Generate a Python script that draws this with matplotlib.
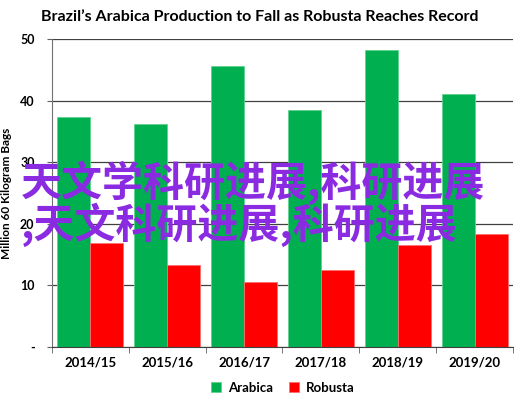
import numpy as np
import matplotlib
matplotlib.use('Agg')
import matplotlib.pyplot as plt

# Brazil coffee production, million 60 kg bags
seasons = ['2014/15', '2015/16', '2016/17', '2017/18', '2018/19', '2019/20']
arabica = [37.4, 36.2, 45.7, 38.5, 48.3, 41.1]
robusta = [16.9, 13.3, 10.5, 12.4, 16.6, 18.3]
y_ticks = [0, 10, 20, 30, 40, 50]
y_tick_labels = ['-', '10', '20', '30', '40', '50']
overlay_lines = ['天文学科研进展,科研进展', ',天文科研进展,科研进展']

plt.rcParams['font.family'] = ['Lato', 'DejaVu Sans']

fig = plt.figure(figsize=(5.3, 3.97), dpi=100)
ax = fig.add_axes([0.098, 0.1267, 0.870, 0.7743])

x = np.arange(len(seasons))
w = 0.43
ax.bar(x - w/2, arabica, w, color='#00B050', edgecolor='#5fd38f', linewidth=0.6, label='Arabica', zorder=3)
ax.bar(x + w/2, robusta, w, color='#FF0000', edgecolor='#ff7070', linewidth=0.6, label='Robusta', zorder=3)

ax.set_xlim(-0.5, len(seasons) - 0.5)
ax.set_ylim(0, 50)
ax.set_yticks(y_ticks)
ax.set_yticklabels(y_tick_labels, fontsize=9, fontweight='bold')
ax.yaxis.grid(True, color='#404040', linewidth=0.9, zorder=0)
ax.tick_params(axis='y', length=3.5, color='#606060', pad=9)

ax.set_xticks(x)
ax.set_xticklabels(seasons, fontsize=9.5, fontweight='bold')
ax.set_xticks(np.arange(len(seasons) + 1) - 0.5, minor=True)
ax.tick_params(axis='x', which='major', length=0, pad=7)
ax.tick_params(axis='x', which='minor', length=4, color='#606060')

for s in ['top', 'right']:
    ax.spines[s].set_visible(False)
ax.spines['left'].set_color('#707070')
ax.spines['bottom'].set_color('#404040')
ax.spines['bottom'].set_zorder(4)

ax.set_ylabel('Million 60 Kilogram Bags', fontsize=8.5, fontweight='bold')
ax.yaxis.set_label_coords(-0.087, 0.5)

fig.suptitle("Brazil\u2019s Arabica Production to Fall as Robusta Reaches Record",
             x=0.49, y=0.975, fontsize=11.5, fontweight='bold')

ax.legend(loc='upper center', bbox_to_anchor=(0.5, -0.075), ncol=2, frameon=False,
          prop={'size': 9.5, 'weight': 'bold'}, handlelength=0.8, handleheight=0.8,
          columnspacing=1.2, handletextpad=0.5)

fig.text(0.04, 1 - 183/397, overlay_lines[0], fontsize=29.5, fontweight='bold',
         color='#8A2BE2', va='center', ha='left', family=['Noto Sans CJK SC', 'DejaVu Sans'])
fig.text(0.04, 1 - 225/397, overlay_lines[1], fontsize=29.5, fontweight='bold',
         color='#8A2BE2', va='center', ha='left', family=['Noto Sans CJK SC', 'DejaVu Sans'])

fig.savefig('out.png', dpi=100)
